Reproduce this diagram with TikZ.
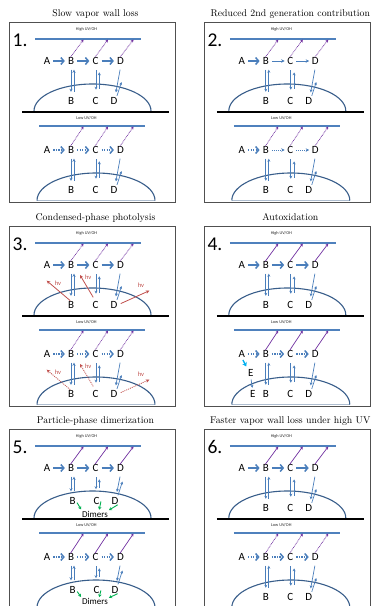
\documentclass[tikz,border=0pt]{standalone}
\usepackage{fontspec}
\newfontfamily\carl{Carlito}
\usetikzlibrary{arrows.meta,calc}
\definecolor{ablue}{HTML}{4A7EBB}
\definecolor{lblue}{HTML}{4F81BD}
\definecolor{dblue}{HTML}{385D8A}
\definecolor{apurple}{HTML}{7030A0}
\definecolor{agreen}{HTML}{00B050}
\definecolor{acyan}{HTML}{00B0F0}
\definecolor{ared}{HTML}{C0504D}
\definecolor{framec}{HTML}{505050}

\tikzset{
  let/.style={font=\carl\fontsize{11}{13}\selectfont, inner sep=0pt, text=black},
  numlab/.style={font=\carl\fontsize{19.5}{22}\selectfont, inner sep=0pt, anchor=base west},
  uvlab/.style={font=\carl\fontsize{4.3}{5}\selectfont, inner sep=0pt, text=black!85},
  hvlab/.style={font=\carl\fontsize{6.5}{7}\selectfont, inner sep=0pt, text=ared},
  dimlab/.style={font=\carl\fontsize{9}{10}\selectfont, inner sep=0pt, text=black},
  ttl/.style={font=\fontsize{9.8}{11}\selectfont, inner sep=0pt, anchor=base},
  uvline/.style={lblue, line width=1.8pt},
  tha/.style={ablue, line width=1.5pt, -{Straight Barb[length=3pt,width=7pt]}, shorten <=3pt, shorten >=3pt},
  thd/.style={tha, dash pattern=on 1.3pt off 1.2pt},
  thn/.style={ablue, line width=0.8pt, -{Stealth[length=3.5pt,width=3.5pt]}, shorten <=3pt, shorten >=2.5pt},
  thnd/.style={thn, dash pattern=on 1pt off 1pt},
  varr/.style={ablue, line width=0.7pt, -{Stealth[length=3pt,width=3pt]}},
  purs/.style={apurple, line width=0.7pt, -{Stealth[length=3pt,width=3pt]}},
  purd/.style={purs, dash pattern=on 0.8pt off 0.8pt},
  hvs/.style={ared, line width=0.8pt, -{Stealth[length=3.5pt,width=3.5pt]}},
  hvd/.style={hvs, dash pattern=on 1pt off 1pt},
  garr/.style={agreen, line width=0.9pt, -{Stealth[length=3pt,width=3.5pt]}},
  cyarr/.style={acyan, line width=1.4pt, -{Stealth[length=4pt,width=5pt]}},
  dome/.style={dblue, line width=1.1pt},
  domebase/.style={dblue!40, line width=0.9pt},
  wall/.style={black, line width=1.8pt},
  panelbox/.style={draw=framec, line width=0.9pt}
}

\def\bbx{71}\def\ccx{95.5}\def\ddx{114}\def\dly{101}

% #1 prefix #2 dx #3 dy #4 label #5 purple #6 AB #7 BC #8 lx #9 ly
\newcommand\halfp[9]{%
\begin{scope}[shift={(#2,#3)}]
\node[uvlab] (#1L) at (86.5,29) {#4};
\coordinate (#1la) at (35+#8,39+#9);
\coordinate (#1lb) at (141+#8,39+#9);
\draw[uvline] (#1la) -- (#1lb);
\node[let] (#1A) at (47,61) {A};
\node[let] (#1B) at (71,61) {B};
\node[let] (#1C) at (95.5,61) {C};
\node[let] (#1D) at (120.5,61) {D};
\draw[#6] (#1A) -- (#1B);
\draw[#7] (#1B) -- (#1C);
\draw[#7] (#1C) -- (#1D);
\coordinate (#1Bp) at (83.5,39.5+#9);
\coordinate (#1Cp) at (108,39.5+#9);
\coordinate (#1Dp) at (133.5,39.5+#9);
\draw[#5] ([xshift=-0.5pt]#1B.north) -- (#1Bp);
\draw[#5] ([xshift=-0.5pt]#1C.north) -- (#1Cp);
\draw[#5] ([xshift=-0.5pt]#1D.north) -- (#1Dp);
\node[let] (#1b) at (\bbx,\dly) {B};
\node[let] (#1c) at (\ccx,\dly) {C};
\node[let] (#1d) at (\ddx,\dly) {D};
\draw[varr, shorten <=5pt, shorten >=5.5pt] (#1B.south) -- (#1B.south |- #1b.north);
\draw[varr, shorten <=5.5pt, shorten >=5pt] ($(#1B.south |- #1b.north)+(3,0)$) -- ($(#1B.south)+(3,0)$);
\draw[varr, shorten <=5.5pt, shorten >=7.5pt] ($(#1C.south)+(0.5,0)$) -- ($(#1C.south |- #1c.north)+(0.5,0)$);
\draw[varr, shorten <=8.5pt, shorten >=7.5pt] ($(#1C.south |- #1c.north)+(3.8,0)$) -- ($(#1C.south)+(3.8,0)$);
\draw[varr, shorten <=5pt, shorten >=5pt] ($(#1D.south)+(0.5,0)$) -- ($(#1d.north)+(1,0)$);
\coordinate (#1Du) at (\ddx+7.5,\dly-19);
\draw[varr, shorten <=1.5pt] ($(#1d.north)+(2.5,0)$) -- (#1Du);
\end{scope}}

\newcommand\panelfr[5]{%
\begin{scope}[shift={(#2,#3)}]
\draw[panelbox] (9.5,22) rectangle (175.7,202.3);
\node[ttl] (#1t) at (95.5,16.7) {#5};
\node[numlab] (#1n) at (12.5,46.5) {#4};
\end{scope}}

\newcommand\domes[2]{%
\begin{scope}[shift={(#1,#2)}]
\draw[dome] (34,111) arc[start angle=180,end angle=360,x radius=58.5,y radius=27];
\draw[wall] (22,111.7) -- (169,111.7);
\draw[domebase] (37,200.5) -- (155,200.5);
\draw[dome] (37,200.5) arc[start angle=180,end angle=360,x radius=59,y radius=27.5];
\end{scope}}

\newcommand\photo[4]{%
\begin{scope}[shift={(#2,#3)}]
\coordinate (#1Hb) at (46.7,76.7);
\coordinate (#1Hc) at (80,71);
\coordinate (#1Hd) at (149.3,86.7);
\draw[#4, shorten <=1pt] (#1b.north) -- (#1Hb);
\draw[#4, shorten <=4.5pt] (#1c.north) -- (#1Hc);
\draw[#4, shorten <=3.5pt] (#1d.east) -- (#1Hd);
\node[hvlab] (#1hvb) at (58,79) {hv};
\node[hvlab] (#1hvc) at (88.3,73) {hv};
\node[hvlab] (#1hvd) at (141,81) {hv};
\end{scope}}

% #1 prefix #2 dx #3 dy #4 y of label
\newcommand\dimers[4]{%
\begin{scope}[shift={(#2,#3)}]
\node[dimlab] (#1X) at (95,#4) {Dimers};
\draw[garr, shorten <=2.5pt, shorten >=1.5pt] (#1b.east) -- (#1X.north west);
\draw[garr, shorten <=1pt, shorten >=1pt] ($(#1c.east)+(1.5,0)$) -- ($(#1X.north)+(4,0)$);
\draw[garr, shorten <=1pt, shorten >=1pt] (#1d.south east) -- (#1X.north east);
\end{scope}}

\begin{document}
\begin{tikzpicture}[x=1pt,y=-1pt]
\useasboundingbox (0,0) rectangle (373,606);
\clip (0,0) rectangle (373,606);

\panelfr{P1}{0}{0}{1.}{Slow vapor wall loss}
\panelfr{P2}{194.8}{0}{2.}{Reduced 2nd generation contribution}
\panelfr{P3}{0}{204}{3.}{Condensed-phase photolysis}
\panelfr{P4}{194.8}{204}{4.}{Autoxidation}
\panelfr{P5}{0}{407}{5.}{Particle-phase dimerization}
\panelfr{P6}{194.8}{407}{6.}{Faster vapor wall loss under high UV}

\domes{0}{0}
\domes{194.8}{0}
\domes{0}{204}
\domes{194.8}{204}
\domes{0}{407}
\domes{194.8}{407}

\halfp{p1h}{0}{0}{High UV/OH}{purd}{tha}{tha}{0}{0}
\halfp{p1l}{0}{89}{Low UV/OH}{purd}{thd}{thd}{4}{-2}
\halfp{p2h}{194.8}{0}{High UV/OH}{purd}{tha}{thn}{0}{0}
\halfp{p2l}{194.8}{89}{Low UV/OH}{purd}{thd}{thnd}{4}{-2}
\halfp{p3h}{0}{204}{High UV/OH}{purd}{tha}{tha}{0}{0}
\halfp{p3l}{0}{293}{Low UV/OH}{purd}{thd}{thd}{4}{-2}
\halfp{p4h}{194.8}{204}{High UV/OH}{purs}{tha}{tha}{0}{0}
\halfp{p4l}{194.8}{293}{Low UV/OH}{purs}{thd}{thd}{4}{-2}
\def\bbx{72.5}\def\ccx{96.5}\def\ddx{115}\def\dly{93.5}
\halfp{p5h}{0}{407}{High UV/OH}{purs}{tha}{tha}{0}{0}
\halfp{p5l}{0}{496}{Low UV/OH}{purs}{thd}{thd}{4}{-2}
\def\bbx{71}\def\ccx{95.5}\def\ddx{114}\def\dly{101}
\halfp{p6h}{194.8}{407}{High UV/OH}{purs}{tha}{tha}{0}{0}
\halfp{p6l}{194.8}{496}{Low UV/OH}{purd}{thd}{thd}{4}{-2}

\photo{p3h}{0}{204}{hvs}
\photo{p3l}{0}{293}{hvd}

\begin{scope}[shift={(194.8,293)}]
\node[let] (p4lE) at (55.9,80.3) {E};
\node[let] (p4le) at (57.9,101) {E};
\draw[cyarr, shorten <=2.5pt, shorten >=3.5pt] (p4lA.south) -- (p4lE.north west);
\draw[varr, shorten <=2.5pt, shorten >=2.5pt] (p4lE.south) -- (p4le.north);
\end{scope}

\dimers{p5h}{0}{407}{107}
\dimers{p5l}{0}{496}{105.5}
\end{tikzpicture}
\end{document}
